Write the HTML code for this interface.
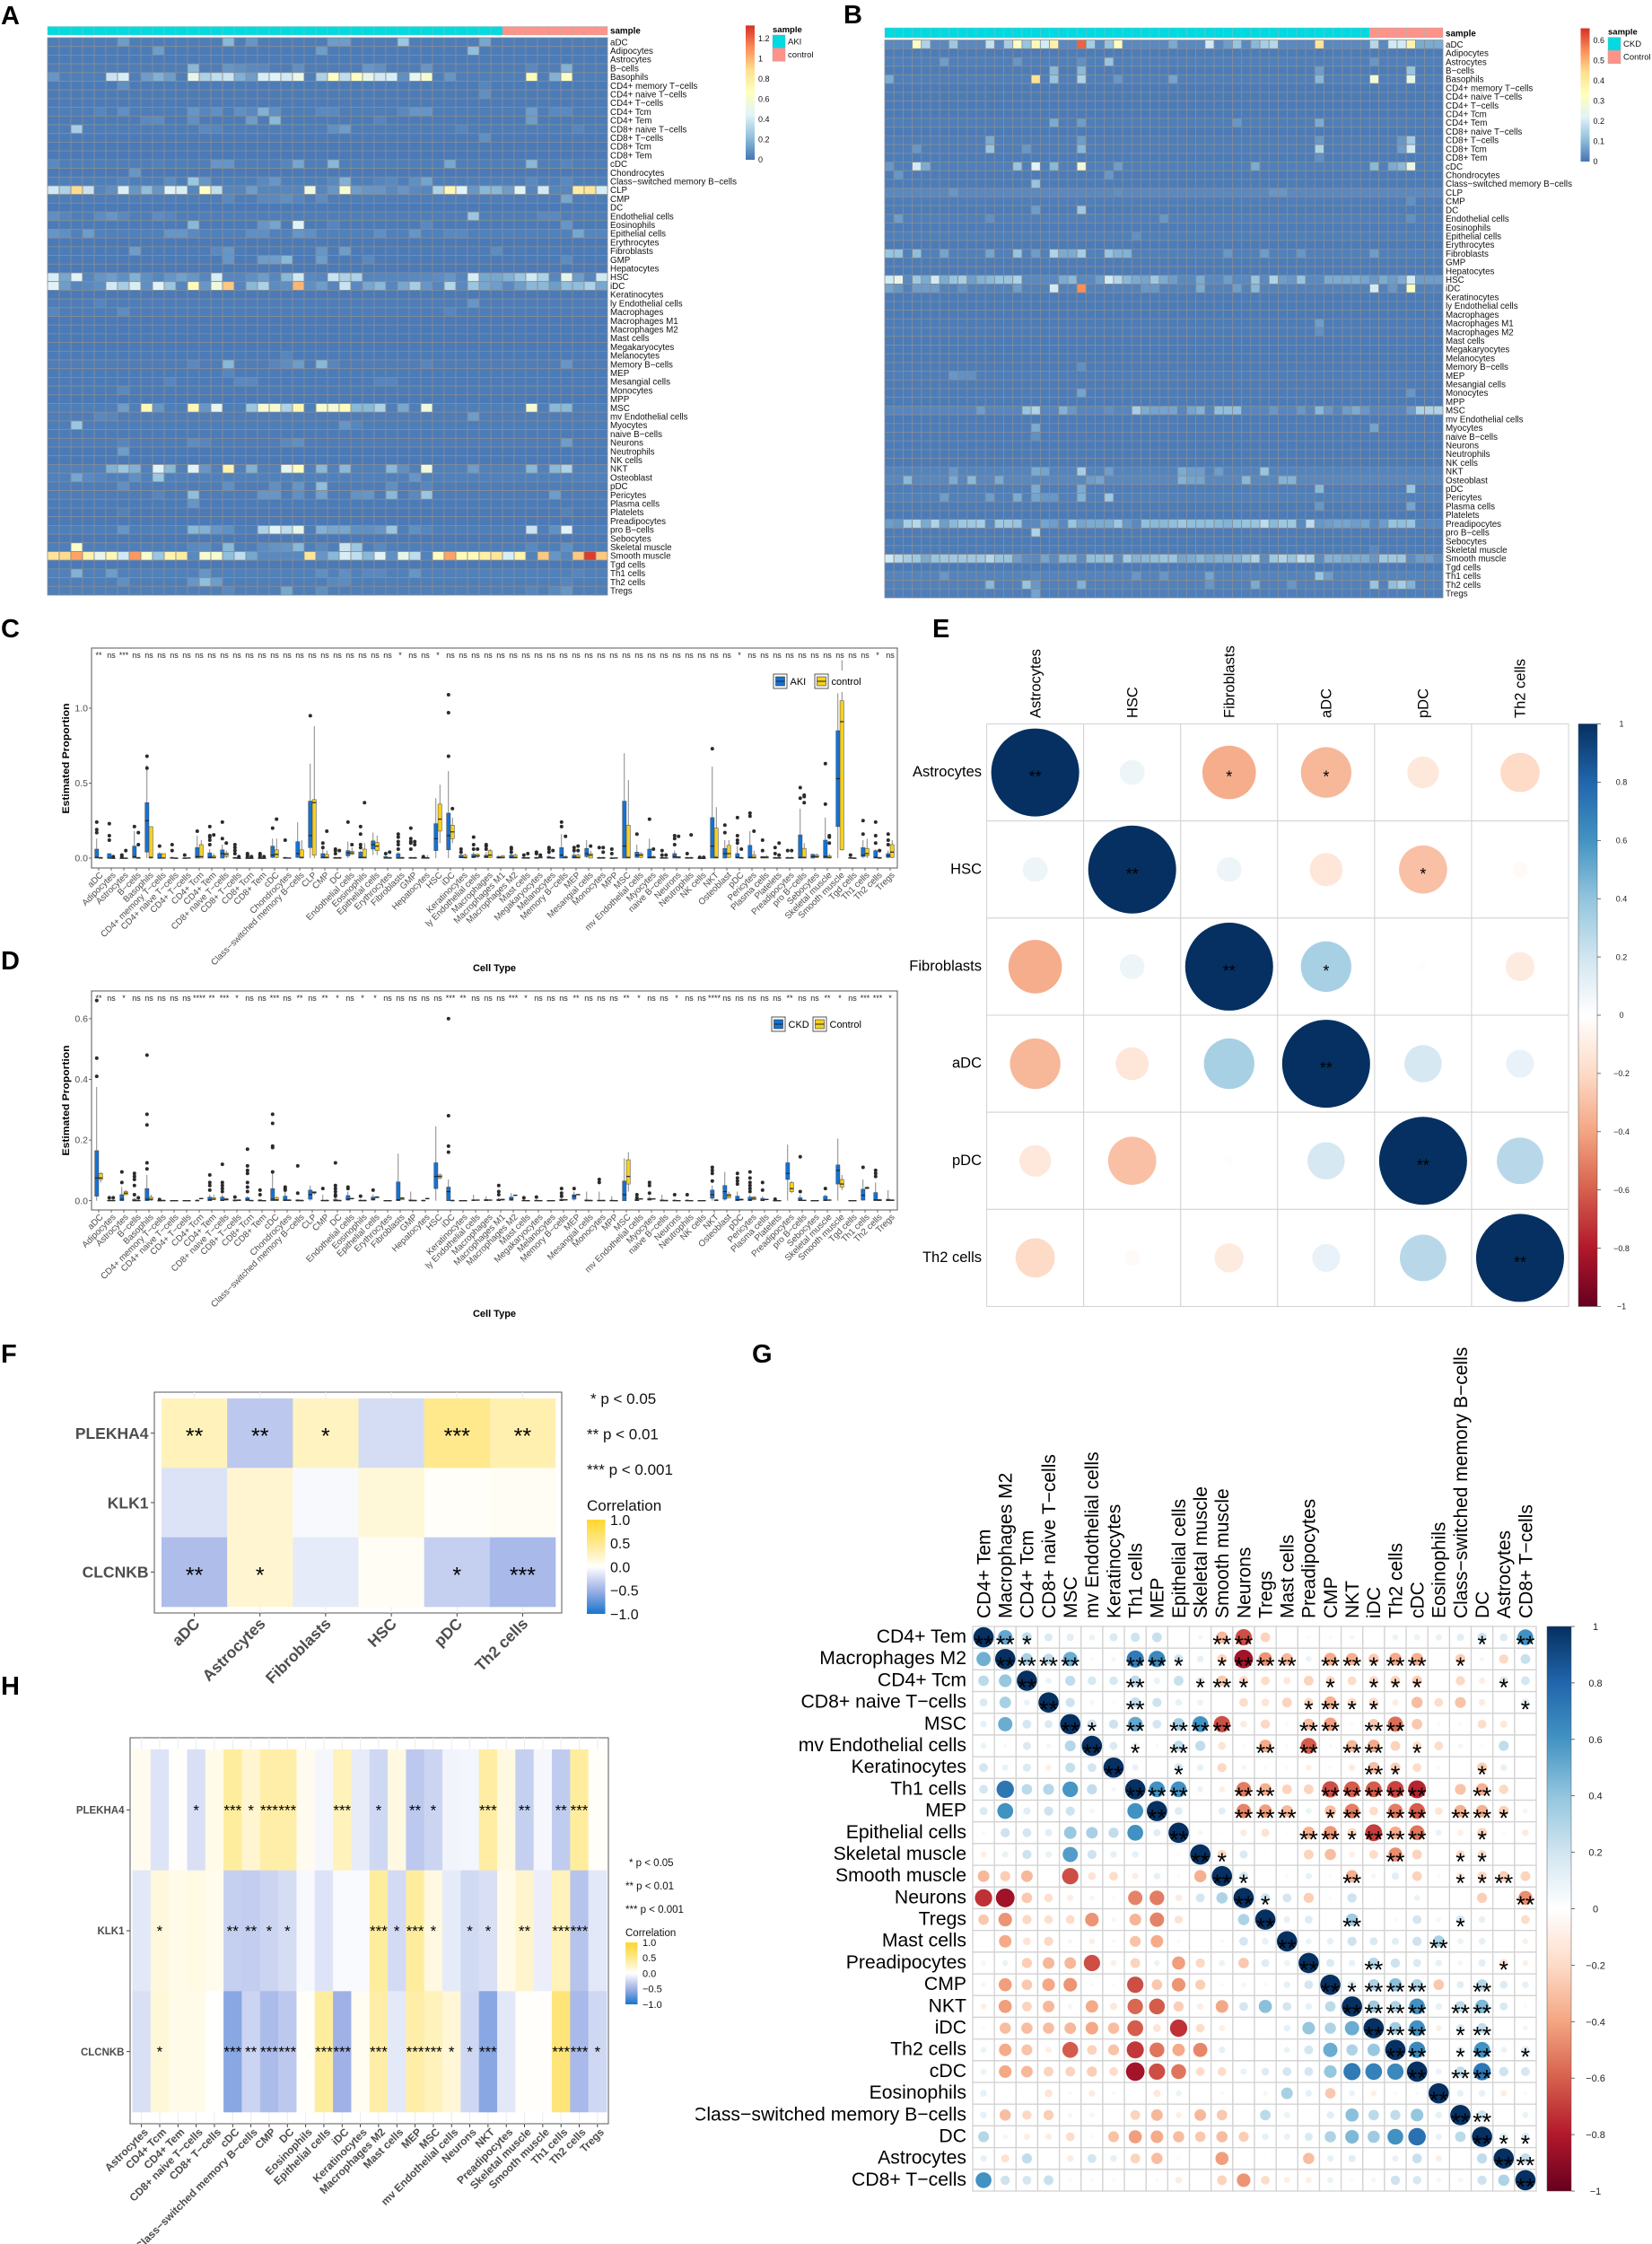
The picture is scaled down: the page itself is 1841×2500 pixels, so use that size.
<!DOCTYPE html>
<html lang="en">
<head>
<meta charset="utf-8">
<title>Immune infiltration composite figure</title>
<style>
html,body{margin:0;padding:0;background:#fff}
svg{display:block}
text{font-family:"Liberation Sans",sans-serif}
.letter{font-size:29px;font-weight:bold;fill:#000}
</style>
</head>
<body>
<svg id="figure" xmlns="http://www.w3.org/2000/svg" width="1841" height="2500" viewBox="0 0 1841 2500">
<rect x="0" y="0" width="1841" height="2500" fill="#fff"/>
<defs id="defs"></defs>
<text class="letter" x="1" y="27">A</text>
<text class="letter" x="940" y="26">B</text>
<text class="letter" x="1" y="710">C</text>
<text class="letter" x="1" y="1080">D</text>
<text class="letter" x="1039" y="710">E</text>
<text class="letter" x="1" y="1518">F</text>
<text class="letter" x="838" y="1518">G</text>
<text class="letter" x="1" y="1888">H</text>
<g id="panelA"></g>
<g id="panelB"></g>
<g id="panelC"></g>
<g id="panelD"></g>
<g id="panelE"></g>
<g id="panelF"></g>
<g id="panelG"></g>
<g id="panelH"></g>
</svg>
<script>
/* ---------- shared categories ---------- */
const cellTypes = ["aDC","Adipocytes","Astrocytes","B−cells","Basophils","CD4+ memory T−cells","CD4+ naive T−cells","CD4+ T−cells","CD4+ Tcm","CD4+ Tem","CD8+ naive T−cells","CD8+ T−cells","CD8+ Tcm","CD8+ Tem","cDC","Chondrocytes","Class−switched memory B−cells","CLP","CMP","DC","Endothelial cells","Eosinophils","Epithelial cells","Erythrocytes","Fibroblasts","GMP","Hepatocytes","HSC","iDC","Keratinocytes","ly Endothelial cells","Macrophages","Macrophages M1","Macrophages M2","Mast cells","Megakaryocytes","Melanocytes","Memory B−cells","MEP","Mesangial cells","Monocytes","MPP","MSC","mv Endothelial cells","Myocytes","naive B−cells","Neurons","Neutrophils","NK cells","NKT","Osteoblast","pDC","Pericytes","Plasma cells","Platelets","Preadipocytes","pro B−cells","Sebocytes","Skeletal muscle","Smooth muscle","Tgd cells","Th1 cells","Th2 cells","Tregs"];

/* ---------- panel A heatmap: sample counts, row baseline, elevated cells as col,value pairs ---------- */
const groupsA = ["AKI","control"];
const groupCountsA = [39,9];
const legendTicksA = [1.2,1,0.8,0.6,0.4,0.2,0];
const baselineA = [.025,.02,.02,.025,.03,.02,.02,.02,.025,.02,.025,.02,.015,.015,.03,.015,.03,.05,.025,.015,.03,.02,.035,.015,.02,.02,.015,.05,.05,.015,.025,.025,.015,.015,.015,.015,.02,.025,.02,.02,.02,.015,.03,.025,.025,.02,.025,.015,.015,.035,.035,.025,.025,.02,.015,.015,.03,.015,.03,.05,.015,.035,.03,.03];
const hotA = [
[6,.12,15,.2,17,.1,24,.12,25,.12,30,.25,37,.15],
[9,.12,23,.12,36,.22],
[],
[12,.2,15,.1,16,.08,17,.06,18,.06,21,.08,27,.1,28,.08,32,.1,41,.06,44,.18],
[0,.1,5,.38,6,.42,8,.12,9,.18,10,.12,12,.5,13,.3,14,.35,15,.38,16,.18,17,.12,18,.42,19,.45,20,.4,21,.52,23,.3,24,.65,25,.35,26,.67,27,.5,28,.4,29,.42,30,.08,31,.48,32,.6,34,.1,41,.7,43,.18,44,.65],
[6,.08,37,.05],
[37,.08],
[],
[4,.05,6,.08,12,.1,13,.05,14,.08,16,.08,17,.06,18,.18,19,.08,23,.06,24,.06,30,.06,31,.1,32,.1,41,.12,43,.06,44,.06],
[8,.06,9,.07,12,.08,17,.12,19,.2,28,.05,41,.12],
[2,.28,13,.06,14,.05,24,.08,25,.12,35,.05,45,.05],
[37,.08],
[],
[],
[0,.06,9,.04,14,.1,15,.1,20,.05,21,.15,24,.2,34,.15,41,.2,44,.05],
[7,.1],
[6,.05,10,.07,12,.25,13,.1,18,.06,19,.1,24,.06,25,.18,28,.05,29,.06,31,.08,32,.14,41,.06,44,.06],
[0,.4,1,.3,2,.9,3,.38,5,.08,6,.42,7,.1,8,.22,9,.1,10,.45,11,.42,13,.65,14,.35,17,.12,22,.55,24,.1,25,.6,26,.12,27,.1,28,.1,29,.06,30,.1,31,.06,33,.3,34,.72,35,.45,36,.1,37,.2,38,.2,39,.12,40,.45,42,.4,45,.8,46,.85,47,.42],
[15,.06,18,.06,19,.06,20,.08,21,.05,23,.07,44,.15],
[],
[0,.08,1,.05,4,.07,5,.1,6,.06,9,.07,10,.05,36,.25,42,.06,43,.06],
[12,.2,18,.1,19,.14,21,.45,24,.05,32,.06,44,.1],
[0,.1,1,.08,3,.12,4,.04,10,.1,11,.1,12,.06,17,.08,18,.08,21,.1,22,.08,28,.08,31,.1,34,.06,35,.06,45,.15,46,.05,47,.05],
[],
[7,.12,14,.06,15,.1,23,.1,25,.12,38,.07],
[15,.1,18,.12,19,.12,20,.2,23,.12,27,.06,44,.07],
[],
[0,.42,1,.15,2,.45,4,.1,5,.12,6,.08,7,.18,8,.08,10,.1,11,.13,12,.1,14,.42,17,.08,18,.12,20,.2,21,.4,22,.06,24,.38,25,.3,26,.3,30,.05,31,.06,32,.06,33,.07,34,.1,36,.42,37,.15,38,.15,39,.18,40,.25,41,.4,42,.3,44,.5,45,.12,47,.4],
[0,.45,1,.12,3,.06,4,.08,5,.4,6,.28,7,.42,8,.08,9,.45,10,.25,12,.7,13,.1,14,.55,15,.95,17,.2,18,.3,19,.07,20,.08,21,1,22,.08,23,.12,25,.38,26,.06,27,.15,28,.2,30,.15,31,.28,32,.1,34,.32,35,.06,36,.25,37,.15,38,.12,39,.06,40,.12,41,.2,42,.2,43,.12,44,.22,45,.22,46,.3,47,.15],
[],
[4,.05,36,.1],
[0,.05,6,.07,34,.05],
[],[],[],[],
[20,.05],
[12,.06,15,.2,19,.05,20,.07,21,.12,23,.2,24,.05,32,.05,44,.1],
[15,.05],
[10,.05,16,.06,17,.06,28,.05,29,.05],
[6,.06],
[],
[6,.12,8,.7,9,.1,12,.72,13,.1,14,.48,17,.25,18,.6,19,.6,20,.3,21,.72,23,.6,24,.58,25,.68,26,.2,27,.2,28,.3,30,.15,32,.55,41,.6,43,.2,44,.2],
[4,.06,5,.05,36,.12],
[2,.25,25,.1,26,.05],
[],
[6,.05,12,.07,13,.05,20,.06,21,.08,44,.12],
[6,.12],
[],
[5,.18,6,.25,7,.18,9,.45,10,.2,12,.45,13,.1,15,.75,17,.18,20,.48,21,.65,23,.2,25,.2,29,.2,30,.08,32,.55,36,.12,41,.2,43,.2,44,.3],
[2,.15,3,.06,4,.05,7,.08,9,.25,31,.1],
[6,.08,15,.08,19,.08,21,.1,23,.22,29,.08,32,.05],
[9,.05,12,.22,18,.1,19,.1,21,.08,23,.13,26,.09,27,.1,29,.2,31,.06,32,.25,43,.12],
[12,.1],
[6,.04,44,.04],
[],
[6,.1,12,.2,13,.18,14,.1,15,.08,18,.3,19,.45,20,.35,21,.5,23,.18,24,.15,25,.15,26,.08,27,.08,28,.1,29,.25,31,.08,32,.05,41,.38,43,.08,44,.45],
[],
[2,.62,12,.06,13,.07,15,.2,18,.07,19,.09,20,.1,21,.2,23,.06,25,.38,26,.25,28,.06,41,.06,44,.08],
[0,.85,1,.9,2,1.05,3,.75,4,.5,5,.72,6,.4,7,1.08,8,.6,9,.25,10,.75,11,.8,12,.06,13,.6,14,.6,15,.22,16,.35,17,.15,18,.06,19,.06,20,.06,21,.06,22,.85,23,.1,24,.2,25,.42,26,.35,27,.2,28,.45,29,.08,30,.5,31,.35,32,.04,33,.68,34,1.05,35,.7,36,.7,37,.78,38,.85,39,.42,40,.75,41,.04,42,.95,43,.1,44,.05,45,.95,46,1.3,47,.95],
[],
[2,.18,5,.12,13,.1,23,.08,25,.08,27,.06,28,.06,31,.1,45,.05],
[6,.08,12,.1,13,.22,14,.12,24,.06,25,.07,44,.05],
[15,.06,20,.15,23,.08,41,.05,43,.06,44,.1]
];

/* ---------- panel B heatmap ---------- */
const groupsB = ["CKD","Control"];
const groupCountsB = [53,8];
const legendTicksB = [0.6,0.5,0.4,0.3,0.2,0.1,0];
const baselineB = [.03,.012,.016,.012,.016,.01,.01,.01,.01,.014,.01,.014,.014,.012,.016,.012,.012,.03,.014,.012,.016,.012,.016,.01,.018,.012,.01,.03,.02,.01,.01,.01,.012,.012,.01,.01,.01,.012,.014,.012,.012,.01,.025,.01,.012,.012,.01,.01,.01,.022,.028,.014,.018,.012,.01,.03,.012,.01,.012,.035,.01,.022,.02,.014];
const hotB = [
[3,.32,4,.15,7,.13,11,.18,13,.14,14,.33,15,.12,16,.35,17,.2,18,.38,21,.6,22,.14,24,.12,25,.33,31,.08,35,.2,37,.06,38,.12,40,.1,41,.14,42,.16,47,.42,53,.16,55,.2,56,.2,57,.37,58,.08,59,.08,60,.08],
[],
[6,.06,14,.05,21,.04,24,.12,53,.05],
[18,.1,21,.1,47,.06,57,.12],
[0,.08,16,.43,18,.12,21,.15,25,.05,31,.07,47,.1,53,.28,57,.25],
[],[],[],[],
[18,.08,21,.06,38,.05,47,.08],
[],
[11,.08,21,.06,47,.05,56,.05,57,.13],
[3,.05,11,.12,15,.05,21,.1,47,.15,56,.06,57,.2],
[47,.04],
[0,.05,3,.2,4,.08,14,.12,16,.22,18,.1,21,.28,25,.06,40,.08,53,.1,55,.08,56,.1,57,.26],
[1,.05,24,.05],
[16,.12],
[7,.05,25,.04,42,.05,43,.05],
[57,.04],
[16,.06,21,.13],
[1,.06,11,.04,30,.05,57,.04],
[],
[27,.04],
[],
[0,.12,1,.12,3,.11,6,.07,11,.07,14,.12,16,.06,18,.15,19,.08,20,.08,21,.14,24,.12,25,.09,26,.09,37,.05,41,.06,45,.05,53,.06],
[],
[],
[0,.2,1,.25,2,.03,3,.13,4,.08,5,.2,6,.08,7,.12,8,.14,9,.06,10,.09,11,.1,12,.12,13,.12,14,.15,19,.08,20,.1,23,.06,24,.2,25,.16,26,.1,27,.08,28,.07,29,.13,30,.08,31,.06,34,.08,37,.06,40,.12,42,.15,43,.06,44,.05,45,.12,48,.08,49,.08,50,.08,51,.08,52,.07,53,.05,54,.08,55,.06,56,.08,57,.2,58,.06,59,.06,60,.06],
[0,.07,1,.05,3,.06,4,.06,5,.06,8,.04,14,.06,18,.2,21,.55,28,.05,29,.05,34,.08,38,.06,40,.1,53,.2,55,.05,57,.32],
[],[],[],
[47,.06],
[47,.04],
[],[],[],
[21,.04],
[7,.05,8,.04,9,.04],
[],
[21,.07,57,.05],
[],
[10,.06,15,.12,16,.15,19,.09,20,.05,24,.04,27,.14,28,.08,29,.07,30,.07,31,.07,33,.07,34,.09,36,.11,37,.11,38,.11,42,.05,45,.05,47,.1,48,.05,50,.06,51,.08,52,.05,57,.06,58,.15,59,.15,60,.15],
[],
[16,.08,53,.07],
[16,.04],
[],[],[],
[7,.05,16,.08,17,.07,21,.14,24,.06,32,.08,33,.06,34,.06,36,.06,41,.12],
[2,.1,7,.08,9,.1,12,.08,22,.06,23,.07,32,.09,33,.07,34,.07,39,.1,43,.09,44,.09],
[16,.08,21,.08,47,.1,57,.12],
[6,.06,11,.06,14,.08,16,.07,17,.05,18,.05,21,.09,24,.13],
[47,.05,57,.07],
[],
[0,.06,1,.05,2,.14,3,.16,4,.08,5,.15,6,.06,7,.1,8,.13,9,.13,10,.14,12,.13,13,.13,14,.12,17,.07,18,.06,20,.12,21,.07,22,.08,23,.08,24,.08,25,.13,26,.05,28,.11,29,.1,30,.1,31,.11,32,.13,33,.11,34,.11,35,.11,36,.1,37,.09,38,.11,39,.12,40,.12,41,.17,42,.1,43,.13,44,.13,46,.17,47,.05,48,.06,49,.07,50,.07,51,.06,52,.07,54,.06,55,.12,56,.11,57,.12],
[16,.15],
[],
[53,.03],
[0,.2,1,.16,2,.14,3,.13,4,.08,5,.12,6,.13,7,.13,8,.13,9,.13,10,.13,11,.16,12,.12,13,.12,14,.06,16,.03,17,.07,19,.09,20,.09,22,.11,23,.11,24,.12,26,.13,27,.09,28,.1,29,.11,30,.12,31,.12,32,.07,33,.08,34,.1,35,.08,36,.09,37,.09,38,.09,39,.12,40,.15,42,.13,43,.15,44,.12,45,.17,46,.15,48,.09,49,.09,50,.08,51,.08,52,.08,53,.05,54,.13,55,.13,56,.13,58,.06,59,.06],
[],
[6,.05,16,.03,27,.05,30,.05,35,.07,47,.12,48,.06],
[11,.1,15,.12,16,.05,21,.09,35,.05,40,.08,44,.05,53,.12,55,.11,56,.14,57,.09],
[16,.07]
];

/* ---------- panel C boxplots: each entry is low whisker, q1, median, q3, high whisker, outliers ---------- */
const yTicksC = [0,0.5,1];
const yTicksD = [0,0.2,0.4,0.6];
const sigC = ["**","ns","***","ns","ns","ns","ns","ns","ns","ns","ns","ns","ns","ns","ns","ns","ns","ns","ns","ns","ns","ns","ns","ns","*","ns","ns","*","ns","ns","ns","ns","ns","ns","ns","ns","ns","ns","ns","ns","ns","ns","ns","ns","ns","ns","ns","ns","ns","ns","ns","*","ns","ns","ns","ns","ns","ns","ns","ns","ns","ns","*","ns"];
const sigD = ["**","ns","*","ns","ns","ns","ns","ns","****","**","***","*","ns","ns","***","ns","**","ns","**","*","ns","*","*","ns","ns","ns","ns","ns","***","**","ns","ns","ns","***","*","ns","ns","ns","**","ns","ns","ns","**","*","ns","ns","*","ns","ns","****","ns","ns","ns","ns","ns","**","ns","ns","**","*","ns","***","***","*"];
const caseC = [[0,0,.005,.06,.13,[.17,.19,.24]],[0,0,0,.03,.03,[.12,.15,.23]],[0,0,0,0,.01,[.01,.02]],[0,0,.01,.08,.18,[.21]],[0,.04,.25,.37,.62,[.6,.68]],[0,0,0,.03,.04,[.08]],[0,0,0,.005,.01,[.05,.09]],[0,0,0,0,0,[.02]],[0,0,.01,.07,.15,[.18]],[0,0,.005,.035,.06,[.09,.12,.14,.15,.21]],[0,0,.03,.055,.09,[.13,.24]],[0,0,0,.005,.01,[.03,.05,.07,.09]],[0,0,0,0,0,[.01,.02,.03]],[0,0,0,0,0,[.01,.02,.03]],[0,.005,.02,.08,.13,[.2]],[0,0,0,.005,.01,[.12]],[0,.005,.03,.11,.24,[]],[0,.07,.15,.38,.63,[.95]],[0,0,.005,.03,.06,[.07,.1]],[0,0,0,.005,.01,[.03,.05,.06]],[0,.015,.035,.05,.11,[.24]],[0,0,.005,.04,.05,[.07,.09,.16,.21]],[.02,.06,.09,.115,.17,[]],[0,0,0,.01,.02,[.03]],[0,0,0,.03,.04,[.06,.09,.11,.14,.16]],[0,0,0,.005,.01,[.06,.1,.11,.13,.2]],[0,0,0,.003,.005,[.01]],[0,.05,.13,.23,.4,[]],[0,.055,.15,.3,.58,[.68,.97,1.09]],[0,.002,.005,.02,.03,[.04,.06]],[0,.002,.01,.025,.04,[.06,.09,.14]],[0,.002,.01,.02,.04,[.06,.08,.09]],[0,0,.003,.01,.02,[]],[0,0,.005,.02,.03,[.04,.06,.07]],[0,0,0,.005,.01,[.02]],[0,0,0,.005,.01,[.03,.04]],[0,0,.002,.01,.02,[.04,.06,.07]],[0,0,.02,.07,.16,[.21,.24]],[0,0,.005,.02,.04,[.05,.07]],[0,.01,.03,.065,.12,[]],[0,0,0,.005,.01,[.07]],[0,0,0,0,.01,[.03,.06]],[0,0,.08,.38,.7,[]],[0,.005,.02,.04,.09,[.16]],[0,0,.005,.06,.13,[.26]],[0,0,0,.005,.01,[.02,.05]],[0,0,.01,.03,.05,[.09,.13,.15]],[0,0,0,.005,.01,[.03]],[0,0,0,0,0,[.005]],[0,0,.08,.27,.61,[.73]],[0,0,.03,.065,.12,[.17,.22]],[0,0,.005,.03,.08,[.1,.12,.15,.27]],[0,0,.005,.085,.18,[.28,.3]],[0,0,.005,.01,.015,[.05,.12]],[0,0,0,.005,.01,[.03,.07]],[0,0,0,.005,.01,[.05]],[0,0,.005,.155,.33,[.4,.47]],[0,0,.01,.025,.03,[]],[0,0,.01,.12,.27,[.36,.63]],[0,.21,.53,.85,1.1,[]],[0,0,0,.005,.01,[.02]],[0,.01,.02,.07,.12,[.16,.25]],[0,0,.005,.05,.06,[.1,.15,.24]],[0,.005,.015,.03,.05,[.09,.12,.16]]];
const controlC = [[0,0,0,.005,.01,[]],[0,0,0,0,0,[.01]],[0,0,0,0,0,[.05]],[0,0,0,.005,.01,[.09,.17]],[0,0,.005,.21,.21,[]],[0,0,0,.03,.03,[]],[0,0,0,0,.005,[]],[0,0,0,.003,.005,[]],[0,0,.01,.09,.12,[]],[0,0,.005,.015,.03,[.155]],[0,.01,.025,.035,.05,[.1]],[0,0,0,0,0,[.01]],[0,0,0,0,0,[.01]],[0,0,0,0,0,[.01]],[0,.005,.025,.055,.13,[.26]],[0,0,0,.002,.005,[]],[0,0,.005,.055,.12,[]],[0,.02,.37,.39,.88,[]],[0,0,.005,.025,.05,[.18]],[0,0,0,.005,.01,[.05]],[.02,.025,.035,.045,.07,[.09]],[0,0,.005,.06,.1,[.37]],[.02,.05,.08,.105,.15,[]],[0,0,0,.005,.01,[.04]],[0,0,0,.005,.01,[]],[0,0,0,.005,.01,[.09,.11]],[0,0,0,.005,.02,[]],[.1,.18,.26,.36,.49,[]],[.1,.13,.175,.22,.27,[.33]],[0,0,.005,.02,.03,[]],[0,.01,.015,.025,.03,[.06]],[0,.005,.02,.05,.06,[]],[0,0,.005,.015,.02,[]],[0,0,.005,.02,.03,[]],[0,0,0,.005,.01,[.03]],[0,0,.005,.01,.015,[.02]],[0,0,0,.005,.01,[.05]],[0,0,.005,.01,.02,[.145]],[0,0,.005,.02,.03,[.05,.08]],[0,0,.02,.03,.05,[.08]],[0,0,0,.005,.01,[.04,.07]],[0,0,0,.003,.005,[]],[0,0,.005,.22,.52,[]],[0,.005,.02,.03,.04,[]],[0,0,.005,.01,.02,[.06]],[0,0,0,.003,.005,[.02]],[0,0,.005,.01,.01,[.145]],[0,0,0,.005,.01,[.155]],[0,0,0,0,0,[.005]],[0,0,.005,.2,.34,[]],[0,.005,.03,.085,.12,[]],[0,0,0,.005,.01,[.06]],[0,0,.005,.02,.05,[.18]],[0,0,.005,.01,.02,[]],[0,0,0,.005,.01,[.02,.1]],[0,0,0,.005,.01,[.05]],[0,0,.005,.065,.1,[.37,.41,.42]],[0,.005,.01,.02,.03,[]],[0,0,.005,.015,.03,[.1,.14,.15]],[.05,.055,.91,1.05,1.32,[]],[0,0,0,0,.005,[]],[0,.015,.03,.065,.13,[]],[0,0,0,.005,.01,[.05]],[0,.005,.04,.09,.12,[]]];

/* ---------- panel D boxplots ---------- */
const caseD = [[0,.015,.075,.165,.375,[.41,.47,.66]],[0,0,0,.002,.005,[.01]],[0,0,.005,.02,.045,[.06,.095]],[0,0,0,.005,.01,[.02,.05,.07,.08,.09]],[0,0,.005,.04,.085,[.105,.125,.25,.285,.48]],[0,0,0,.001,.002,[.004]],[0,0,0,.001,.002,[]],[0,0,0,.001,.002,[]],[0,0,0,.002,.005,[]],[0,0,.003,.012,.02,[.035,.05,.06,.085]],[0,0,.002,.012,.02,[.03,.04,.05,.06,.12]],[0,0,0,.003,.005,[.012]],[0,0,.003,.01,.015,[.03,.045,.06,.09,.1,.115,.17]],[0,0,0,.003,.005,[.02,.035]],[0,0,.005,.04,.09,[.095,.175,.18,.255,.285]],[0,0,.002,.015,.03,[.035,.04,.045]],[0,0,0,.003,.005,[.025,.115]],[0,.005,.02,.035,.05,[]],[0,0,0,.002,.02,[.04]],[0,0,0,.005,.01,[.015,.02,.03,.04,.05,.125]],[0,.002,.005,.017,.03,[.04,.045]],[0,0,0,.002,.005,[.015]],[0,.002,.005,.012,.02,[.035]],[0,0,0,.001,.002,[]],[0,0,.003,.062,.155,[]],[0,0,0,.003,.03,[]],[0,0,0,.002,.004,[]],[0,.04,.08,.125,.245,[]],[0,0,.03,.045,.07,[.16,.18,.28,.6]],[0,0,0,.001,.002,[]],[0,0,.002,.003,.02,[]],[0,0,.002,.004,.015,[]],[0,0,.002,.005,.01,[.02,.03,.05]],[0,.001,.005,.012,.025,[]],[0,0,0,.002,.005,[.01]],[0,0,0,.002,.004,[.012]],[0,0,0,.001,.002,[]],[0,0,.002,.005,.01,[.015,.025,.04]],[0,.005,.015,.02,.03,[.04]],[0,0,0,.003,.03,[]],[0,0,0,.002,.03,[.06,.07]],[0,0,0,.002,.015,[]],[0,0,.02,.065,.14,[]],[0,0,.002,.005,.005,[.01,.02]],[0,.002,.005,.008,.015,[.025,.05,.06]],[0,0,0,.003,.02,[]],[0,0,0,.002,.005,[.02]],[0,0,0,.002,.005,[.02]],[0,0,0,.001,.002,[]],[0,.008,.02,.035,.05,[.065,.09,.1,.11]],[0,.005,.03,.05,.095,[]],[0,0,.003,.015,.03,[.055,.065,.075,.09]],[0,0,.003,.012,.02,[.03,.04,.05,.06,.075,.095]],[0,0,.002,.008,.015,[.035,.06]],[0,0,0,.001,.002,[.005]],[.0,.07,.09,.125,.185,[]],[0,0,.002,.01,.02,[.03,.145]],[0,0,0,.001,.002,[]],[0,0,.002,.015,.02,[.04]],[0,.055,.1,.118,.205,[]],[0,0,0,.001,.002,[]],[0,.002,.018,.038,.07,[.11]],[0,0,.003,.027,.06,[.08,.09,.1]],[0,0,.002,.005,.035,[]]];
const controlD = [[.06,.07,.075,.09,.095,[]],[0,0,0,.002,.004,[.01]],[.018,.02,.025,.03,.035,[]],[0,0,0,.002,.004,[.01]],[0,.002,.005,.012,.02,[]],[0,0,0,.002,.004,[]],[0,0,0,.001,.002,[]],[0,0,0,.001,.002,[]],[.005,.006,.007,.008,.009,[]],[.002,.004,.005,.01,.02,[]],[0,.002,.004,.007,.01,[]],[0,0,.002,.003,.004,[]],[0,0,0,.002,.003,[]],[0,0,0,.001,.002,[]],[0,0,.003,.01,.015,[]],[0,0,.002,.003,.005,[]],[0,0,0,.002,.004,[]],[.02,.025,.027,.03,.032,[]],[0,0,0,.002,.004,[]],[0,0,0,.002,.004,[]],[.004,.006,.007,.008,.009,[]],[0,0,0,.002,.004,[]],[.008,.01,.012,.013,.014,[]],[0,0,0,.001,.002,[]],[.002,.003,.008,.01,.012,[]],[0,0,0,.002,.004,[]],[.004,.006,.007,.008,.009,[]],[.07,.075,.08,.085,.09,[]],[0,0,0,.002,.004,[]],[0,0,0,.001,.002,[]],[0,.001,.002,.003,.004,[]],[0,.001,.002,.003,.004,[]],[0,.002,.004,.005,.006,[]],[.016,.017,.018,.019,.02,[]],[0,0,0,.001,.002,[]],[0,0,0,.001,.002,[]],[0,0,0,.001,.002,[]],[0,.002,.003,.004,.005,[]],[.018,.019,.02,.021,.022,[]],[0,0,0,.002,.004,[]],[0,0,0,.002,.004,[]],[0,0,0,.001,.002,[]],[.03,.055,.08,.135,.16,[]],[.004,.005,.006,.007,.008,[]],[.004,.005,.006,.007,.008,[]],[0,0,0,.002,.003,[]],[0,0,0,.001,.002,[]],[0,0,0,.001,.002,[]],[0,0,0,.001,.002,[]],[0,0,.002,.003,.005,[]],[.008,.01,.017,.022,.03,[]],[0,.002,.004,.005,.008,[]],[.002,.003,.008,.012,.015,[]],[.002,.003,.004,.005,.006,[]],[0,0,0,.001,.002,[]],[.025,.03,.04,.06,.065,[]],[0,0,.001,.002,.003,[]],[0,0,0,.001,.002,[]],[0,.001,.002,.003,.005,[]],[.035,.045,.055,.07,.085,[]],[0,0,0,.001,.002,[]],[.038,.04,.042,.045,.047,[]],[0,0,.002,.004,.006,[]],[0,0,.002,.003,.004,[]]];

/* ---------- panel E ---------- */
const labelsE = ["Astrocytes","HSC","Fibroblasts","aDC","pDC","Th2 cells"];
const corrE = [
[1,.08,-.37,-.33,-.13,-.2],
[.08,1,.08,-.14,-.3,-.03],
[-.37,.08,1,.33,-.01,-.11],
[-.33,-.14,.33,1,.18,.1],
[-.13,-.3,-.01,.18,1,.28],
[-.2,-.03,-.11,.1,.28,1]
];
const starsE = [[[0,2],[2,1],[3,1]],[[1,2],[4,1]],[[2,2],[3,1]],[[3,2]],[[4,2]],[[5,2]]];
const corrBarTicks = [1,.8,.6,.4,.2,0,-.2,-.4,-.6,-.8,-1];
const rdBu = ["#67001F","#B2182B","#D6604D","#F4A582","#FDDBC7","#FFFFFF","#D1E5F0","#92C5DE","#4393C3","#2166AC","#053061"];

/* ---------- panel F ---------- */
const genes = ["PLEKHA4","KLK1","CLCNKB"];
const cellsF = ["aDC","Astrocytes","Fibroblasts","HSC","pDC","Th2 cells"];
const valuesF = [
[.3,-.35,.27,-.22,.5,.35],
[-.18,.2,-.04,.17,.03,.05],
[-.42,.2,-.13,.05,-.3,-.45]
];
const starsF = [[[0,2],[1,2],[2,1],[4,3],[5,2]],[],[[0,2],[1,1],[4,1],[5,3]]];
const geneLegendTicks = [1,.5,0,-.5,-1];
const pLegend = ["* p < 0.05","** p < 0.01","*** p < 0.001"];

/* ---------- panel G ---------- */
const labelsG = ["CD4+ Tem","Macrophages M2","CD4+ Tcm","CD8+ naive T−cells","MSC","mv Endothelial cells","Keratinocytes","Th1 cells","MEP","Epithelial cells","Skeletal muscle","Smooth muscle","Neurons","Tregs","Mast cells","Preadipocytes","CMP","NKT","iDC","Th2 cells","cDC","Eosinophils","Class−switched memory B−cells","DC","Astrocytes","CD8+ T−cells"];
const corrG = [
[1,.52,.25,.16,.13,.09,.16,.21,.23,.02,-.06,-.33,-.65,-.23,0,-.04,-.04,-.06,-.02,.09,.09,.1,.13,.21,.15,.61],
[.49,1,.33,.27,.5,.04,.06,.71,.65,.21,.11,-.23,-.84,-.45,-.33,.09,-.38,-.36,-.27,-.38,-.36,0,-.25,-.06,-.21,.23],
[.27,.39,1,.09,.25,.18,.18,.27,.1,.23,.15,-.27,-.21,-.19,-.13,-.23,-.21,-.19,-.21,-.23,-.25,0,-.21,-.1,.18,.19],
[.16,.33,.09,1,.21,.06,-.04,.25,.21,.11,.09,0,-.19,-.15,-.23,-.21,-.36,-.2,-.21,-.1,-.31,-.19,-.29,-.11,0,.15],
[.11,.5,.19,.16,1,.21,.21,.52,.19,.36,.61,-.65,-.11,-.21,-.04,-.31,-.42,-.04,-.27,-.56,-.27,.04,-.04,-.19,-.13,.02],
[.09,.04,.16,.06,.29,1,.16,.11,.04,.26,.25,-.15,-.04,-.38,-.04,-.61,.04,-.33,-.38,-.23,-.19,-.19,-.06,-.04,.25,.02],
[.19,.1,.16,-.09,.24,.19,1,.1,0,.19,.11,-.21,-.06,-.04,-.04,-.09,-.04,-.11,-.31,-.25,-.19,.04,0,-.25,.11,0],
[.19,.73,.27,.29,.59,.25,.06,1,.61,.61,.09,-.09,-.52,-.36,-.23,-.23,-.65,-.61,-.61,-.68,-.77,0,-.29,-.36,-.21,0],
[.16,.61,.13,.21,.21,.06,0,.61,1,.15,0,.13,-.5,-.42,-.33,.09,-.31,-.52,-.19,-.52,-.61,-.15,-.36,-.36,-.25,-.06],
[.04,.21,.19,.13,.38,.33,.25,.61,.13,1,-.06,-.02,-.11,-.16,-.02,-.36,-.44,-.21,-.7,-.38,-.54,.09,-.09,-.23,-.04,-.11],
[-.09,.1,.21,.1,.56,.21,.11,.11,0,-.04,1,-.21,.16,-.02,.02,-.23,-.31,-.09,-.19,-.47,-.23,0,-.19,-.19,0,.02],
[-.33,-.25,-.33,0,-.65,-.15,-.19,-.1,.11,-.04,-.36,1,.19,0,.04,.1,-.04,-.36,-.06,.13,-.23,-.04,-.13,-.21,-.25,-.23],
[-.73,-.85,-.27,-.18,-.1,-.06,-.04,-.5,-.52,-.11,.19,.31,1,.21,.19,-.25,.04,.21,.02,0,.09,0,0,-.25,0,-.47],
[-.27,-.45,-.21,-.18,-.19,-.45,-.06,-.34,-.5,-.16,0,-.02,.31,1,.11,.15,0,.36,0,.04,.19,.06,.18,.11,0,-.19],
[0,-.38,-.15,-.21,-.06,-.09,.04,-.29,-.38,-.04,.02,.04,.19,.11,1,.09,.11,.21,.16,.13,.21,.33,.09,.11,0,-.09],
[-.06,.09,-.25,-.33,-.33,-.65,-.09,-.23,.09,-.42,-.21,.09,-.27,.15,.09,1,.16,.11,.29,.21,.16,.11,.06,.13,-.16,-.09],
[-.06,-.42,-.27,-.39,-.45,.04,-.04,-.65,-.27,-.45,-.25,-.04,.06,.04,.11,.19,1,.16,.31,.42,.31,-.27,.13,.29,.15,.11],
[-.09,-.42,-.23,-.33,-.06,-.38,-.13,-.58,-.61,-.25,-.1,-.39,.19,.42,.19,.11,.27,1,.36,.31,.61,.11,.27,.45,.16,-.04],
[-.04,-.31,-.31,-.31,-.33,-.39,-.31,-.61,-.15,-.73,-.19,-.09,0,0,.11,.39,.31,.5,1,.36,.61,-.09,.16,.25,0,.06],
[.09,-.38,-.29,-.09,-.61,-.23,-.29,-.71,-.54,-.38,-.49,.11,0,0,.09,.19,.5,.31,.38,1,.65,0,.13,.61,.09,.15],
[.09,-.39,-.33,-.23,-.23,-.25,-.19,-.84,-.65,-.54,-.19,-.19,.1,.15,.19,.19,.39,.71,.68,.65,1,.09,.25,.73,.21,.19],
[.11,0,0,-.15,.04,-.11,.04,0,-.13,.09,0,-.04,0,.06,.33,.11,-.27,.09,-.09,.04,.04,1,.11,.11,-.1,-.04],
[.11,-.31,-.21,-.25,-.06,-.06,0,-.23,-.33,-.09,-.33,-.27,0,.27,.09,0,.13,.42,.27,.25,.39,.11,1,.21,0,.09],
[.29,-.06,-.1,-.1,-.19,-.04,-.29,-.42,-.38,-.31,-.27,-.31,-.25,.11,.1,.16,.31,.45,.36,.61,.75,.1,.27,1,.15,.16],
[.11,-.16,.25,0,-.11,.19,.11,-.23,-.31,-.04,0,-.42,0,-.02,0,-.31,.11,.13,0,.1,.23,-.1,0,.25,1,.25],
[.61,.21,.19,.23,.04,.04,.04,0,-.04,-.11,0,-.23,-.45,-.19,-.09,-.09,.09,-.04,.06,.21,.18,-.06,.06,.21,.31,1]
];
const starsG = [
[[0,2],[1,2],[2,1],[11,2],[12,2],[23,1],[25,2]],
[[1,2],[2,2],[3,2],[4,2],[7,2],[8,2],[9,1],[11,1],[12,2],[13,2],[14,2],[16,2],[17,2],[18,1],[19,2],[20,2],[22,1]],
[[2,2],[7,2],[10,1],[11,2],[12,1],[16,1],[18,1],[19,1],[20,1],[24,1]],
[[3,2],[7,2],[15,1],[16,2],[17,1],[18,1],[25,1]],
[[4,2],[5,1],[7,2],[9,2],[10,2],[11,2],[15,2],[16,2],[18,2],[19,2]],
[[5,2],[7,1],[9,2],[13,2],[15,2],[17,2],[18,2],[20,1]],
[[6,2],[9,1],[18,2],[19,1],[23,1]],
[[7,2],[8,2],[9,2],[12,2],[13,2],[16,2],[17,2],[18,2],[19,2],[20,2],[23,2]],
[[8,2],[12,2],[13,2],[14,2],[16,1],[17,2],[19,2],[20,2],[22,2],[23,2],[24,1]],
[[9,2],[15,2],[16,2],[17,1],[18,2],[19,2],[20,2],[23,1]],
[[10,2],[11,1],[19,2],[22,1],[23,1]],
[[11,2],[12,1],[17,2],[22,1],[23,1],[24,2]],
[[12,2],[13,1],[25,2]],
[[13,2],[17,2],[22,1]],
[[14,2],[21,2]],
[[15,2],[18,2],[24,1]],
[[16,2],[17,1],[18,2],[19,2],[20,2],[23,2]],
[[17,2],[18,2],[19,2],[20,2],[22,2],[23,2]],
[[18,2],[19,2],[20,2],[22,1],[23,2]],
[[19,2],[20,2],[22,1],[23,2],[25,1]],
[[20,2],[22,2],[23,2]],
[[21,2]],
[[22,2],[23,2]],
[[23,2],[24,1],[25,1]],
[[24,2],[25,2]],
[[25,2]]
];

/* ---------- panel H ---------- */
const cellsH = ["Astrocytes","CD4+ Tcm","CD4+ Tem","CD8+ naive T−cells","CD8+ T−cells","cDC","Class−switched memory B−cells","CMP","DC","Eosinophils","Epithelial cells","iDC","Keratinocytes","Macrophages M2","Mast cells","MEP","MSC","mv Endothelial cells","Neurons","NKT","Preadipocytes","Skeletal muscle","Smooth muscle","Th1 cells","Th2 cells","Tregs"];
const valuesH = [
[.07,-.17,.02,-.2,.1,.42,.2,.38,.38,.07,-.05,.3,-.12,-.25,.13,-.35,-.27,-.07,-.06,.4,.13,-.3,-.05,-.33,.42,.03],
[-.15,.15,.1,.12,.08,-.3,-.32,-.27,-.22,-.04,-.17,-.03,-.03,.42,-.23,.42,.13,-.13,-.24,-.2,.1,.22,-.1,.3,-.38,-.15],
[-.2,.17,.1,.1,.01,-.58,-.27,-.43,-.35,.03,.42,-.5,.06,.38,-.14,.38,.3,.18,-.25,-.58,-.15,.03,.02,.6,-.45,-.25]
];
const starsH = [
[[3,1],[5,3],[6,1],[7,3],[8,3],[11,3],[13,1],[15,2],[16,1],[19,3],[21,2],[23,2],[24,3]],
[[1,1],[5,2],[6,2],[7,1],[8,1],[13,3],[14,1],[15,3],[16,1],[18,1],[19,1],[21,2],[23,3],[24,3]],
[[1,1],[5,3],[6,2],[7,3],[8,3],[10,3],[11,3],[13,3],[15,3],[16,3],[17,1],[18,1],[19,3],[23,3],[24,3],[25,1]]
];

/* ---------- helpers ---------- */
const NS = "http://www.w3.org/2000/svg";
function add(parent, tag, attrs, content) {
  const el = document.createElementNS(NS, tag);
  for (const k in attrs) el.setAttribute(k, attrs[k]);
  if (content !== undefined) el.textContent = content;
  parent.appendChild(el);
  return el;
}
function hexRgb(h) { return [parseInt(h.slice(1,3),16),parseInt(h.slice(3,5),16),parseInt(h.slice(5,7),16)]; }
function ramp(stops, t) {
  const p = Math.max(0, Math.min(1, t)) * (stops.length - 1);
  const i = Math.min(Math.floor(p), stops.length - 2);
  const f = p - i, a = hexRgb(stops[i]), b = hexRgb(stops[i + 1]);
  return "rgb(" + a.map((c, k) => Math.round(c + (b[k] - c) * f)).join(",") + ")";
}
const rdYlBu = ["#4575B4","#91BFDB","#E0F3F8","#FFFFBF","#FEE090","#FC8D59","#D73027"];
const geneRamp = ["#1874CD","#9FB1E6","#FFFFFF","#FFE98C","#FFD62F"];
function gradient(id, stops) {
  const g = add(document.getElementById("defs"), "linearGradient", {id: id, x1: 0, y1: 1, x2: 0, y2: 0});
  stops.forEach((s, i) => add(g, "stop", {offset: i / (stops.length - 1), "stop-color": s}));
}
gradient("gradHeat", rdYlBu);
gradient("gradRdBu", rdBu.slice());
gradient("gradGene", geneRamp);
const corrColor = v => ramp(rdBu, (v + 1) / 2);
const geneColor = v => ramp(geneRamp, (v + 1) / 2);
const minus = v => String(v).replace("-", "−");

/* ---------- heatmaps A and B ---------- */
function drawHeatmap(g, cfg) {
  const n = cfg.counts.reduce((a, b) => a + b, 0);
  const xS = c => cfg.x0 + c * (cfg.x1 - cfg.x0) / n;
  const yS = r => cfg.y0 + r * (cfg.y1 - cfg.y0) / cellTypes.length;
  const cw = xS(1) - xS(0), rh = yS(1) - yS(0);
  const color = v => ramp(rdYlBu, v / cfg.max);
  const annotationColors = ["#00DAE0", "#FF9289"];
  let col = 0;
  cfg.counts.forEach((cnt, gi) => {
    for (let k = 0; k < cnt; k++, col++) {
      const a = add(g, "rect", {x: xS(col), y: cfg.ay0, width: cw, height: cfg.ay1 - cfg.ay0, fill: annotationColors[gi], stroke: "#9bb", "stroke-width": .4});
      
      
    }
  });
  cellTypes.forEach((name, r) => {
    const vals = new Array(n).fill(cfg.base[r]);
    const hot = cfg.hot[r] || [];
    for (let i = 0; i < hot.length; i += 2) vals[hot[i]] = hot[i + 1];
    vals.forEach((v, c) => {
      const cell = add(g, "rect", {x: xS(c), y: yS(r), width: cw, height: rh, fill: color(v), stroke: "#858d99", "stroke-width": .8});
      
      
    });
    const t = add(g, "text", {x: cfg.x1 + 3, y: yS(r) + rh / 2 + 3.4, "font-size": 9.8, fill: "#111"}, name);
    
    
  });
  const sl = add(g, "text", {x: cfg.x1 + 3, y: cfg.ay1 - 1.5, "font-size": 9.8, "font-weight": "bold", fill: "#000"}, "sample");
  
  
  const bar = add(g, "rect", {x: cfg.lx, y: cfg.ly1 - cfg.max * cfg.lscale, width: 10, height: cfg.max * cfg.lscale, fill: "url(#gradHeat)"});
  
  
  cfg.ticks.forEach(v => {
    const t = add(g, "text", {x: cfg.lx + 14, y: cfg.ly1 - v * cfg.lscale + 3.2, "font-size": 9, fill: "#111"}, v);
    
    
  });
  const lt = add(g, "text", {x: cfg.lgx, y: cfg.lgy - 3, "font-size": 9.5, "font-weight": "bold", fill: "#000"}, "sample");
  
  
  cfg.groups.forEach((name, i) => {
    const s = add(g, "rect", {x: cfg.lgx, y: cfg.lgy + i * 14.6, width: 14, height: 14.6, fill: annotationColors[i], stroke: "#aaa", "stroke-width": .5});
    
    
    const t = add(g, "text", {x: cfg.lgx + 17, y: cfg.lgy + i * 14.6 + 10.5, "font-size": 9.5, fill: "#111"}, name);
    
    
  });
}
drawHeatmap(document.getElementById("panelA"), {counts: groupCountsA, groups: groupsA, base: baselineA, hot: hotA, ticks: legendTicksA, max: 1.33, x0: 53, x1: 677, y0: 42, y1: 663, ay0: 29.5, ay1: 39, lx: 831, ly1: 178, lscale: 112.5, lgx: 861, lgy: 39});
drawHeatmap(document.getElementById("panelB"), {counts: groupCountsB, groups: groupsB, base: baselineB, hot: hotB, ticks: legendTicksB, max: .66, x0: 986, x1: 1608, y0: 44.6, y1: 666, ay0: 31, ay1: 42, lx: 1761.5, ly1: 180, lscale: 225, lgx: 1792, lgy: 41.6});

/* ---------- boxplots C and D ---------- */
const xBox = i => 110 + i * 14;
function drawBox(g, s, cx, fill, yS) {
  const w = 4.3;
  const wh = add(g, "line", {x1: cx, x2: cx, y1: yS(s[0]), y2: yS(s[4]), stroke: "#555", "stroke-width": .7});
  
  
  const b = add(g, "rect", {x: cx - w / 2, y: yS(s[3]), width: w, height: Math.max(yS(s[1]) - yS(s[3]), .6), fill: fill, stroke: "#444", "stroke-width": .5});
  
  
  const m = add(g, "line", {x1: cx - w / 2, x2: cx + w / 2, y1: yS(s[2]), y2: yS(s[2]), stroke: "#222", "stroke-width": 1.2});
  
  
  s[5].forEach(v => {
    const o = add(g, "circle", {cx: cx, cy: yS(v), r: 2, fill: "#2b2b2b"});
    
    
  });
}
function drawBoxPanel(g, cfg) {
  const f = add(g, "rect", {x: 102, y: cfg.top, width: 898, height: cfg.bottom - cfg.top, fill: "#fff", stroke: "#666", "stroke-width": 1.1});
  
  
  cfg.yTicks.forEach(v => {
    const tick = add(g, "line", {x1: 99, x2: 102, y1: cfg.yS(v), y2: cfg.yS(v), stroke: "#333", "stroke-width": .7});
    
    
    const t = add(g, "text", {x: 98, y: cfg.yS(v) + 3.6, "font-size": 10.5, "text-anchor": "end", fill: "#4d4d4d"}, v.toFixed(1));
    
    
  });
  const yt = add(g, "text", {transform: "translate(77," + cfg.titleY + ") rotate(-90)", "font-size": 11, "font-weight": "bold", "text-anchor": "middle", fill: "#000", textLength: 123, lengthAdjust: "spacingAndGlyphs"}, "Estimated Proportion");
  
  
  cellTypes.forEach((name, i) => {
    const x = xBox(i);
    drawBox(g, cfg.caseData[i], x - 2.2, "#1572D3", cfg.yS);
    drawBox(g, cfg.controlData[i], x + 2.2, "#F7CF1E", cfg.yS);
    const tick = add(g, "line", {x1: x, x2: x, y1: cfg.bottom, y2: cfg.bottom + 3, stroke: "#333", "stroke-width": .7});
    
    
    const t = add(g, "text", {transform: "translate(" + (x + 3) + "," + (cfg.bottom + 6) + ") rotate(-45)", "font-size": 9.9, "text-anchor": "end", fill: "#4d4d4d", dy: "0.35em"}, name);
    
    
    const s = add(g, "text", {x: x, y: cfg.sigY, "font-size": 9, "text-anchor": "middle", fill: "#222"}, cfg.sig[i]);
    
    
  });
  const bg = add(g, "rect", {x: cfg.legendX - 4, y: cfg.legendY - 12, width: 108, height: 24, fill: "#fff"});
  
  
  cfg.legend.forEach((name, i) => {
    const kx = cfg.legendX + [0, 46][i];
    const key = add(g, "rect", {x: kx, y: cfg.legendY - 8, width: 15, height: 16, fill: "#fff", stroke: "#444", "stroke-width": .9});
    
    
    const sw = add(g, "rect", {x: kx + 2.5, y: cfg.legendY - 5, width: 10, height: 10, fill: ["#1572D3", "#F7CF1E"][i], stroke: "#333", "stroke-width": .6});
    
    
    const md = add(g, "line", {x1: kx + 2.5, x2: kx + 12.5, y1: cfg.legendY, y2: cfg.legendY, stroke: "#222", "stroke-width": 1});
    
    
    const t = add(g, "text", {x: kx + 18.5, y: cfg.legendY + 3.8, "font-size": 11, fill: "#000"}, name);
    
    
  });
  const xt = add(g, "text", {x: 551, y: cfg.xTitleY, "font-size": 11, "font-weight": "bold", "text-anchor": "middle", fill: "#000"}, "Cell Type");
  
  
}
const yScaleC = v => 956 - v * 167;
const yScaleD = v => 1337.7 - v * 338;
drawBoxPanel(document.getElementById("panelC"), {top: 722, bottom: 967, yS: yScaleC, yTicks: yTicksC, caseData: caseC, controlData: controlC, sig: sigC, sigY: 733, titleY: 845, legend: ["AKI", "control"], legendX: 862, legendY: 759, xTitleY: 1082});
drawBoxPanel(document.getElementById("panelD"), {top: 1104, bottom: 1348, yS: yScaleD, yTicks: yTicksD, caseData: caseD, controlData: controlD, sig: sigD, sigY: 1115, titleY: 1226, legend: ["CKD", "Control"], legendX: 860, legendY: 1141, xTitleY: 1467});

/* ---------- correlation circle matrices E and G ---------- */
function drawBar(g, cfg) {
  const bar = add(g, "rect", {x: cfg.x, y: cfg.y0, width: cfg.w, height: cfg.y1 - cfg.y0, fill: "url(#gradRdBu)", stroke: "#555", "stroke-width": .5});
  
  
  corrBarTicks.forEach(v => {
    const y = cfg.y0 + (1 - v) / 2 * (cfg.y1 - cfg.y0);
    const tick = add(g, "line", {x1: cfg.x + cfg.w, x2: cfg.x + cfg.w + 4, y1: y, y2: y, stroke: "#333", "stroke-width": .7});
    
    
    const t = add(g, "text", {x: cfg.lx, y: y + cfg.size * .36, "font-size": cfg.size, "text-anchor": "middle", fill: "#222"}, minus(v));
    
    
  });
}
function drawCorr(g, cfg) {
  const n = cfg.labels.length;
  const cell = (cfg.x1 - cfg.x0) / n;
  const cellY = (cfg.y1 - cfg.y0) / n;
  const xS = c => cfg.x0 + (c + .5) * cell;
  const yS = r => cfg.y0 + (r + .5) * cellY;
  cfg.labels.forEach((name, i) => {
    const top = add(g, "text", {transform: "translate(" + xS(i) + "," + cfg.topY + ") rotate(-90)", "font-size": cfg.topSize, dy: "0.35em", fill: "#000"}, name);
    
    
    const left = add(g, "text", {x: cfg.leftX, y: yS(i) + cfg.leftSize * .28, "font-size": cfg.leftSize, "text-anchor": "end", fill: "#000"}, name);
    
    
  });
  cfg.values.forEach((row, r) => row.forEach((v, c) => {
    const box = add(g, "rect", {x: cfg.x0 + c * cell, y: cfg.y0 + r * cellY, width: cell, height: cellY, fill: "#fff", stroke: "#d2d2d2", "stroke-width": cfg.grid});
    
    
  }));
  cfg.values.forEach((row, r) => row.forEach((v, c) => {
    const dot = add(g, "circle", {cx: xS(c), cy: yS(r), r: cfg.rad * Math.sqrt(Math.abs(v)), fill: corrColor(v)});
    
    
  }));
  cfg.stars.forEach((list, r) => list.forEach(p => {
    const s = add(g, "text", {x: xS(p[0]), y: yS(r) + cfg.starSize * cfg.starDy, "font-size": cfg.starSize, "text-anchor": "middle", fill: "#000", "letter-spacing": cfg.spacing}, "*".repeat(p[1]));
    
    
  }));
}
drawCorr(document.getElementById("panelE"), {labels: labelsE, values: corrE, stars: starsE, x0: 1099.6, x1: 1748, y0: 806.5, y1: 1455.5, topY: 800, leftX: 1094, topSize: 16.5, leftSize: 16.5, rad: 49, grid: 1, starSize: 18, starDy: .62, spacing: 0});
drawBar(document.getElementById("panelE"), {x: 1759, w: 21, y0: 806.5, y1: 1455.5, lx: 1807, size: 9});
drawCorr(document.getElementById("panelG"), {labels: labelsG, values: corrG, stars: starsG, x0: 1084, x1: 1712, y0: 1812, y1: 2441, topY: 1803, leftX: 1077, topSize: 21, leftSize: 21.2, rad: 11.3, grid: 1.3, starSize: 27, starDy: .62, spacing: 0});
drawBar(document.getElementById("panelG"), {x: 1724, w: 27, y0: 1812, y1: 2441, lx: 1778, size: 11});
const clipMask = add(document.getElementById("panelG"), "rect", {x: 762, y: 2340, width: 13.5, height: 24, fill: "#fff"});



/* ---------- gene correlation panels F and H ---------- */
function drawGene(g, cfg) {
  const nc = cfg.cols.length, nr = genes.length;
  const cw = (cfg.cx1 - cfg.cx0) / nc, rh = (cfg.cy1 - cfg.cy0) / nr;
  const xS = c => cfg.cx0 + (c + .5) * cw;
  const yS = r => cfg.cy0 + (r + .5) * rh;
  const frame = add(g, "rect", {x: cfg.px0, y: cfg.py0, width: cfg.px1 - cfg.px0, height: cfg.py1 - cfg.py0, fill: "#fff", stroke: "#666", "stroke-width": 1.1});
  
  
  cfg.cols.forEach((name, c) => {
    const gl = add(g, "line", {x1: xS(c), x2: xS(c), y1: cfg.py0, y2: cfg.py1, stroke: "#ebebeb", "stroke-width": 1});
    
    
    const tick = add(g, "line", {x1: xS(c), x2: xS(c), y1: cfg.py1, y2: cfg.py1 + 4, stroke: "#333", "stroke-width": .9});
    
    
    const t = add(g, "text", {transform: "translate(" + (xS(c) + cfg.lxOff) + "," + (cfg.py1 + cfg.lyOff) + ") rotate(-45)", "font-size": cfg.xSize, "font-weight": "bold", "text-anchor": "end", fill: "#4d4d4d"}, name);
    
    
  });
  cfg.values.forEach((row, r) => {
    row.forEach((v, c) => {
      const cell = add(g, "rect", {x: cfg.cx0 + c * cw, y: cfg.cy0 + r * rh, width: cw + .3, height: rh + .3, fill: geneColor(v)});
      
      
    });
    const tick = add(g, "line", {x1: cfg.px0 - 4, x2: cfg.px0, y1: yS(r), y2: yS(r), stroke: "#333", "stroke-width": .9});
    
    
    const t = add(g, "text", {x: cfg.px0 - 6.5, y: yS(r) + cfg.ySize * .36, "font-size": cfg.ySize, "font-weight": "bold", "text-anchor": "end", fill: "#4d4d4d"}, genes[r]);
    
    
  });
  cfg.stars.forEach((list, r) => list.forEach(p => {
    const s = add(g, "text", {x: xS(p[0]), y: yS(r) + cfg.starOff, "font-size": cfg.starSize, "text-anchor": "middle", fill: "#000"}, "*".repeat(p[1]));
    
    
  }));
  pLegend.forEach((name, i) => {
    const t = add(g, "text", {x: cfg.legX + [4, 0, 0][i], y: cfg.legY + i * cfg.legStep, "font-size": cfg.legSize, fill: "#111"}, name);
    
    
  });
  const title = add(g, "text", {x: cfg.legX, y: cfg.corrY, "font-size": cfg.legSize, fill: "#111"}, "Correlation");
  
  
  const bar = add(g, "rect", {x: cfg.legX, y: cfg.barY0, width: cfg.barW, height: cfg.barY1 - cfg.barY0, fill: "url(#gradGene)"});
  
  
  geneLegendTicks.forEach(v => {
    const y = cfg.barY0 + (1 - v) / 2 * (cfg.barY1 - cfg.barY0);
    const t = add(g, "text", {x: cfg.legX + cfg.barW + 5.5, y: y + cfg.tickSize * .36, "font-size": cfg.tickSize, fill: "#111"}, minus(v.toFixed(1)));
    
    
  });
}
drawGene(document.getElementById("panelF"), {cols: cellsF, values: valuesF, stars: starsF, px0: 172, px1: 626, py0: 1551, py1: 1797, cx0: 180, cx1: 619, cy0: 1558, cy1: 1790, lxOff: 7, lyOff: 13, xSize: 17.5, ySize: 17.5, starSize: 25, starOff: 12, legX: 654, legY: 1564, legStep: 39.5, legSize: 17, corrY: 1683, barY0: 1693, barY1: 1798, barW: 20.5, tickSize: 16});
drawGene(document.getElementById("panelH"), {cols: cellsH, values: valuesH, stars: starsH, px0: 145, px1: 678, py0: 1936, py1: 2366, cx0: 147.5, cx1: 676, cy0: 1949, cy1: 2353, lxOff: 8, lyOff: 10, xSize: 12, ySize: 11.5, starSize: 17, starOff: 6, legX: 697, legY: 2079, legStep: 26, legSize: 11.5, corrY: 2157, barY0: 2164, barY1: 2233, barW: 13.5, tickSize: 11});
</script>
</body>
</html>
